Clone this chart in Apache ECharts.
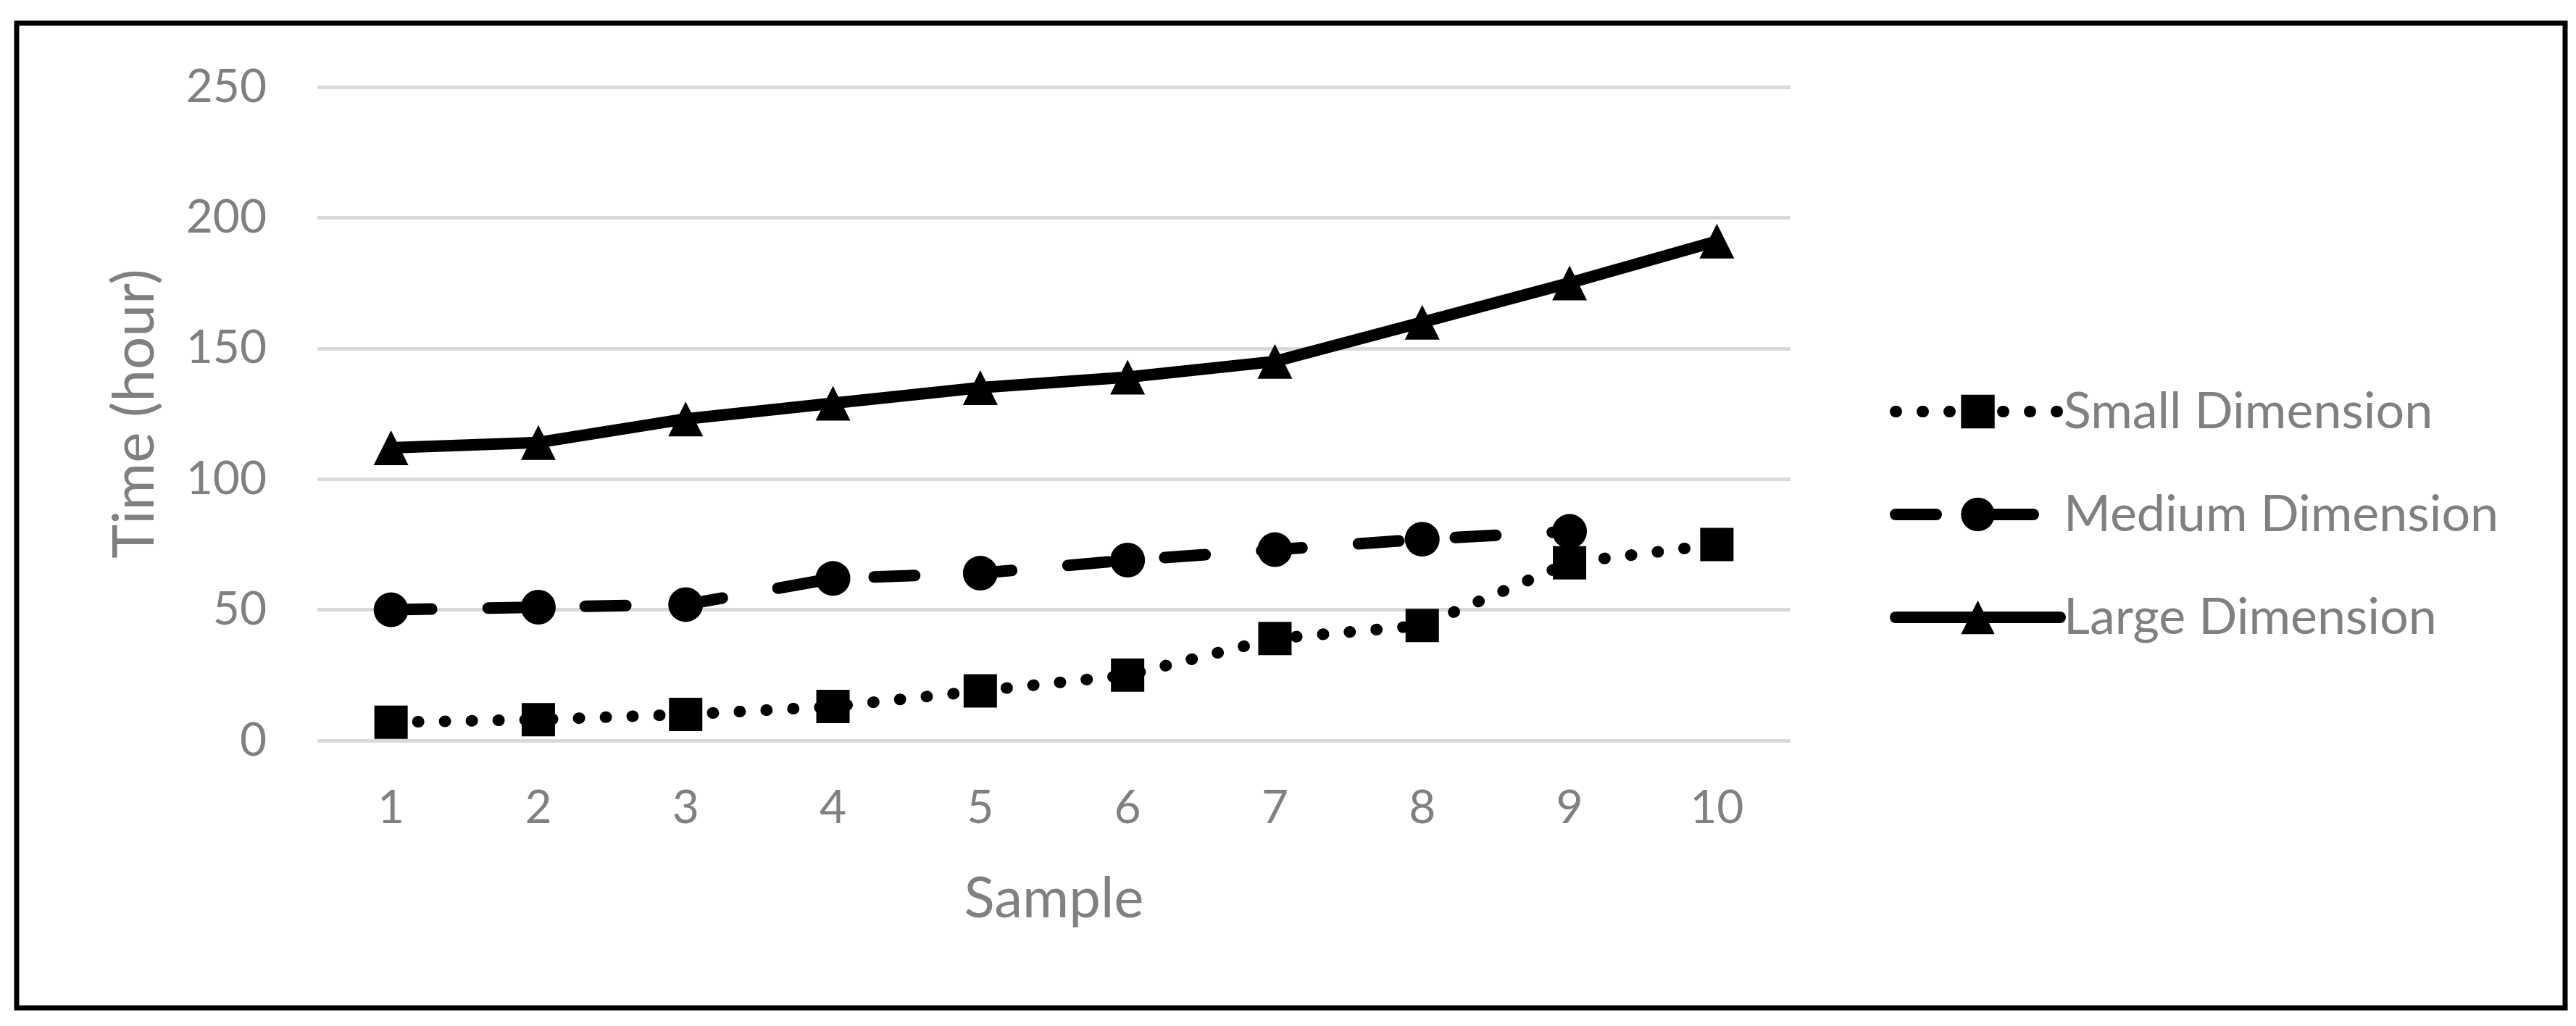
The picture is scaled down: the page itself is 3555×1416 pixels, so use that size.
<!DOCTYPE html>
<html>
<head>
<meta charset="utf-8">
<script src="https://cdn.jsdelivr.net/npm/echarts@6/dist/echarts.min.js"></script>
<style>
  html, body { margin: 0; padding: 0; background: #fff; }
  #chart { width: 3555px; height: 1416px; }
</style>
</head>
<body>
<div id="chart"></div>
<script>
// sample numbers on the x axis
var samples = ['1', '2', '3', '4', '5', '6', '7', '8', '9', '10'];
// time in hours
var smallDim = [7, 8, 10, 13, 19, 25, 39, 44, 68, 75];
var mediumDim = [50, 51, 52, 62, 64, 69, 73, 77, 80, null];
var largeDim = [112, 114, 123, 129, 135, 139, 145, 160, 175, 191];
var yTicks = [0, 50, 100, 150, 200, 250];

var grey = '#808080';
var font = 'Lato';

var chart = echarts.init(document.getElementById('chart'));

function lineSeries(name, data, symbol, dash, size) {
	return {
		name: name,
		type: 'line',
		data: data,
		symbol: symbol,
		symbolSize: size,
		showSymbol: true,
		connectNulls: false,
		animation: false,
		itemStyle: { color: '#000', opacity: 1 },
		lineStyle: {
			color: '#000',
			width: 16,
			type: dash,
			cap: 'round',
			join: 'round'
		}
	};
}

var option = {
	backgroundColor: '#fff',
	animation: false,
	textStyle: { fontFamily: font },
	grid: { left: 438, right: 3555 - 2471, top: 120, bottom: 1416 - 1022 },
	graphic: [{
		type: 'rect',
		shape: { x: 23, y: 32, width: 3517, height: 1359 },
		style: { fill: null, stroke: '#000', lineWidth: 7 },
		z: 100
	}],
	legend: {
		orient: 'vertical',
		left: 2603,
		top: 528,
		itemWidth: 227,
		itemHeight: 58,
		itemGap: 72,
		lineStyle: { width: 16, cap: 'round' },
		textStyle: { color: grey, fontSize: 70, fontFamily: font, padding: [0, 0, 0, 0] },
		data: ['Small Dimension', 'Medium Dimension', 'Large Dimension']
	},
	xAxis: {
		type: 'category',
		data: samples,
		boundaryGap: true,
		name: 'Sample',
		nameLocation: 'middle',
		nameGap: 180,
		nameTextStyle: { color: grey, fontSize: 78, fontFamily: font },
		axisLine: { show: false },
		axisTick: { show: false },
		axisLabel: { color: grey, fontSize: 64, margin: 61, fontFamily: font }
	},
	yAxis: {
		type: 'value',
		min: yTicks[0],
		max: yTicks[yTicks.length - 1],
		interval: 50,
		name: 'Time (hour)',
		nameLocation: 'middle',
		nameGap: 212,
		nameTextStyle: { color: grey, fontSize: 80, fontFamily: font },
		axisLine: { show: false },
		axisTick: { show: false },
		axisLabel: { color: grey, fontSize: 64, margin: 70, fontFamily: font },
		splitLine: { lineStyle: { color: '#d9d9d9', width: 5 } }
	},
	series: [
		lineSeries('Small Dimension', smallDim, 'rect', [1, 36], 46),
		lineSeries('Medium Dimension', mediumDim, 'circle', [56, 78], 48),
		lineSeries('Large Dimension', largeDim, 'triangle', 'solid', 48)
	]
};

chart.setOption(option);
</script>
</body>
</html>
